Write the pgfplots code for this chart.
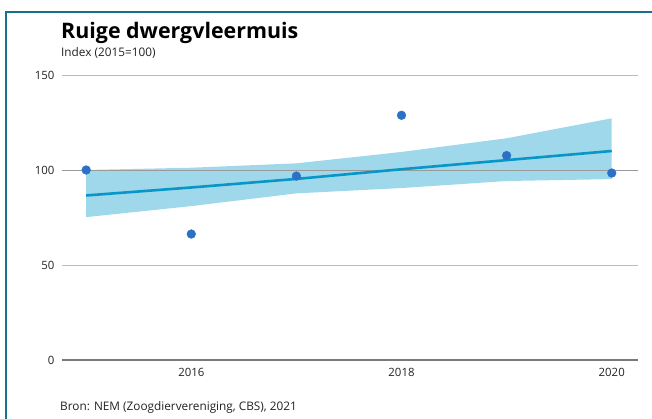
\documentclass[border=0pt]{standalone}
\usepackage{pgfplots}
\pgfplotsset{compat=1.18}
\usepackage{fontspec}
\setmainfont{Open Sans}

\definecolor{framecol}{HTML}{17708C}
\definecolor{dotcol}{HTML}{2B72C6}
\definecolor{trendcol}{HTML}{0896C8}
\definecolor{bandcol}{HTML}{9ED8EA}
\definecolor{gridcol}{HTML}{BBBBBB}
\definecolor{refcol}{HTML}{9A9A9A}
\definecolor{zerocol}{HTML}{7A7A7A}
\definecolor{txtcol}{HTML}{222222}

\begin{document}
\begin{tikzpicture}
\useasboundingbox (0,0) rectangle (652bp,419bp);
% frame
\draw[framecol, line width=1.3bp] (6bp,0) -- (6bp,407bp) -- (652bp,407bp);

\node[anchor=base west, inner sep=0, font=\fontsize{21.4bp}{24bp}\selectfont\bfseries, text=black]
  at (61bp,380bp) {Ruige dwergvleermuis};
\node[anchor=base west, inner sep=0, font=\fontsize{11.8bp}{13bp}\selectfont, text=txtcol]
  at (61bp,362bp) {Index (2015=100)};
\node[anchor=base west, inner sep=0, font=\fontsize{11.8bp}{13bp}\selectfont, text=txtcol]
  at (60bp,9bp) {Bron: NEM (Zoogdiervereniging, CBS), 2021};

\begin{axis}[
    at={(62bp,59bp)}, anchor=south west,
    scale only axis,
    width=576bp, height=285bp,
    xmin=2014.77, xmax=2020.25,
    ymin=0, ymax=150,
    axis line style={draw=none},
    xtick={2016,2018,2020},
    ytick={50,100,150},
    extra y ticks={0},
    extra y tick style={grid style={zerocol, line width=1.4bp}},
    ymajorgrids,
    grid style={gridcol, line width=0.9bp},
    major tick length=0pt,
    tick label style={font=\fontsize{11.4bp}{13bp}\selectfont, text=txtcol},
    xticklabel style={yshift=-5bp},
    yticklabel style={xshift=-4bp},
    /pgf/number format/assume math mode=true,
    /pgf/number format/1000 sep={},
    clip=false,
]
% confidence band
\addplot[fill=bandcol, draw=none] coordinates {
  (2015,100.0) (2016,101.2) (2017,103.5) (2018,109.5) (2019,116.7) (2020,127.2)
  (2020,95.2) (2019,94.2) (2018,90.5) (2017,87.7) (2016,81.0) (2015,75.2)
} -- cycle;
% 100 reference line drawn above band
\addplot[refcol, line width=0.9bp, forget plot] coordinates {(2014.77,100) (2020.25,100)};
% trend
\addplot[trendcol, line width=2.6bp] coordinates {
  (2015,86.6) (2016,90.8) (2017,95.3) (2018,100.4) (2019,105.2) (2020,110.0)
};
% index values
\addplot[only marks, mark=*, mark size=4.4bp, mark options={fill=dotcol, draw=dotcol}] coordinates {
  (2015,100) (2016,66.3) (2017,96.8) (2018,128.8) (2019,107.6) (2020,98.4)
};
\end{axis}
\end{tikzpicture}
\end{document}
